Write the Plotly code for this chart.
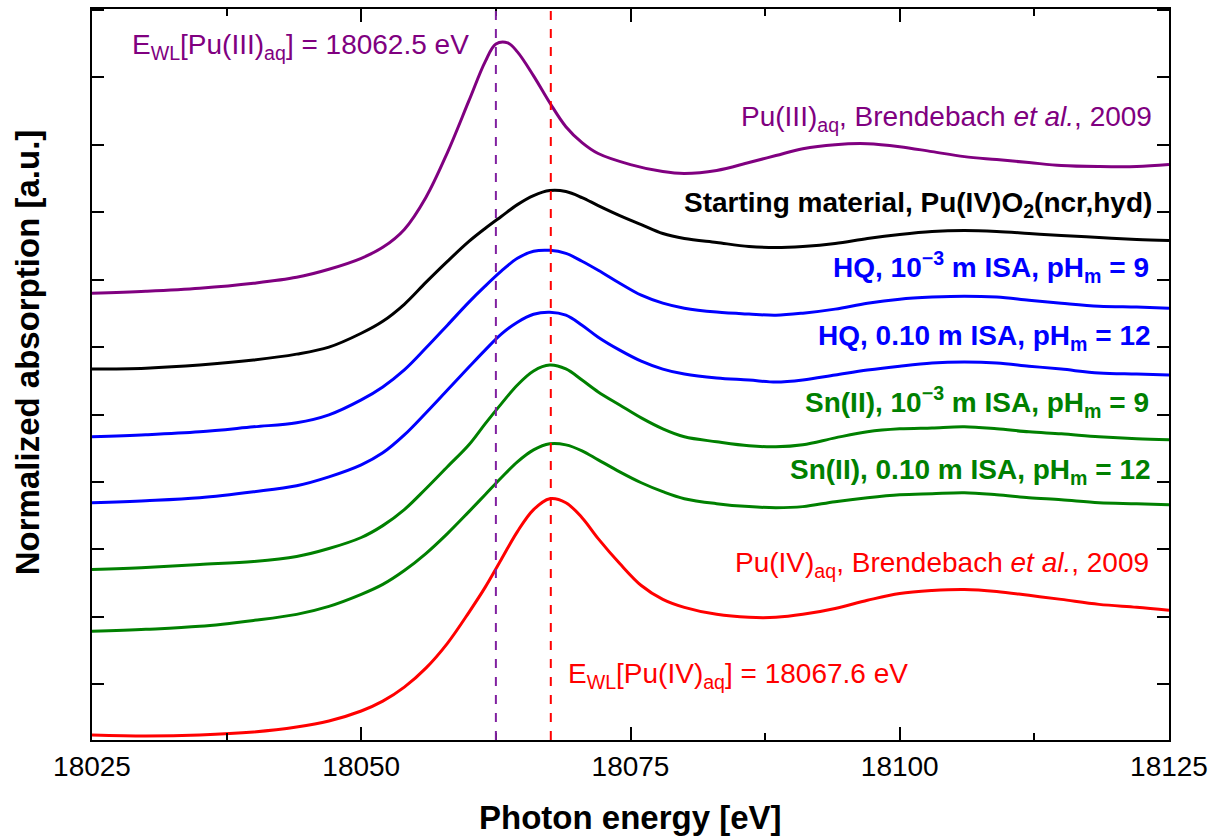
import plotly.graph_objects as go

# ---------------- data ----------------
energy = [18025, 18030, 18035, 18040, 18044, 18047, 18050, 18052, 18054, 18056,
          18058, 18060, 18061.5, 18063, 18064.5, 18066, 18067.5, 18069, 18070.5, 18072,
          18074, 18076, 18078, 18080, 18083, 18086, 18088.5, 18091, 18094, 18097,
          18100, 18103, 18106, 18109, 18112, 18115, 18118.5, 18122, 18125]

mu_pu4_aq = [0.000, -0.007, 0.000, 0.022, 0.059, 0.104, 0.178, 0.251, 0.355, 0.496,
             0.680, 0.910, 1.095, 1.302, 1.509, 1.672, 1.753, 1.723, 1.612, 1.457,
             1.272, 1.109, 1.006, 0.947, 0.895, 0.873, 0.873, 0.895, 0.939, 0.999,
             1.050, 1.072, 1.080, 1.065, 1.036, 1.006, 0.969, 0.947, 0.925]

mu_sn_012 = [0.000, 0.015, 0.037, 0.081, 0.126, 0.185, 0.274, 0.348, 0.451, 0.577,
             0.725, 0.888, 1.013, 1.139, 1.257, 1.346, 1.391, 1.383, 1.339, 1.272,
             1.183, 1.102, 1.036, 0.984, 0.947, 0.925, 0.917, 0.925, 0.962, 0.991,
             1.013, 1.021, 1.028, 1.013, 0.991, 0.976, 0.954, 0.947, 0.939]

mu_sn_9 = [0.000, 0.015, 0.037, 0.059, 0.096, 0.155, 0.237, 0.325, 0.444, 0.599,
           0.762, 0.925, 1.080, 1.228, 1.368, 1.472, 1.516, 1.487, 1.405, 1.317,
           1.220, 1.124, 1.043, 0.984, 0.947, 0.917, 0.910, 0.925, 0.976, 1.021,
           1.043, 1.050, 1.058, 1.043, 1.021, 1.006, 0.984, 0.969, 0.962]

mu_hq_012 = [0.000, 0.015, 0.037, 0.081, 0.126, 0.192, 0.281, 0.370, 0.503, 0.666,
             0.836, 1.006, 1.132, 1.250, 1.339, 1.398, 1.413, 1.391, 1.317, 1.228,
             1.132, 1.050, 0.991, 0.954, 0.925, 0.910, 0.895, 0.910, 0.947, 0.984,
             1.013, 1.036, 1.043, 1.036, 1.013, 0.991, 0.962, 0.954, 0.947]

mu_hq_9 = [0.000, 0.015, 0.037, 0.074, 0.104, 0.163, 0.274, 0.370, 0.496, 0.658,
           0.828, 0.999, 1.117, 1.228, 1.324, 1.376, 1.383, 1.361, 1.302, 1.235,
           1.139, 1.050, 0.991, 0.954, 0.925, 0.910, 0.902, 0.917, 0.947, 0.991,
           1.021, 1.036, 1.043, 1.036, 1.013, 0.991, 0.969, 0.962, 0.954]

mu_start = [0.000, 0.007, 0.030, 0.067, 0.111, 0.163, 0.266, 0.355, 0.481, 0.643,
            0.799, 0.947, 1.043, 1.132, 1.220, 1.287, 1.324, 1.317, 1.272, 1.213,
            1.139, 1.072, 1.006, 0.969, 0.939, 0.910, 0.902, 0.910, 0.932, 0.969,
            0.999, 1.021, 1.028, 1.021, 1.006, 0.991, 0.976, 0.962, 0.954]

energy_pu3 = [18025, 18030, 18035, 18040, 18044, 18047, 18050, 18052, 18054, 18056,
              18058, 18060, 18061.5, 18062.5, 18063.6, 18064.5, 18066, 18067.5, 18069, 18070.5,
              18072, 18075, 18078, 18080, 18083, 18086, 18088.5, 18091, 18094, 18097,
              18100, 18103, 18106, 18109, 18112, 18115, 18118.5, 18122, 18125]
mu_pu3_aq = [0.000, 0.015, 0.037, 0.074, 0.118, 0.178, 0.259, 0.340, 0.473, 0.710,
             1.043, 1.428, 1.716, 1.849, 1.857, 1.790, 1.612, 1.413, 1.235, 1.117,
             1.036, 0.954, 0.902, 0.888, 0.910, 0.969, 1.021, 1.072, 1.102, 1.109,
             1.087, 1.050, 1.013, 0.991, 0.969, 0.947, 0.939, 0.939, 0.954]

series_names = ["Pu(IV)aq", "Sn(II) 0.10 m", "Sn(II) 1e-3 m", "HQ 0.10 m", "HQ 1e-3 m",
                "Starting material", "Pu(III)aq"]
series_offsets = [0.0, 0.769, 1.228, 1.723, 2.212, 2.714, 3.277]
series_colors = ["#FF0000", "#008000", "#008000", "#0000FF", "#0000FF", "#000000", "#800080"]

e_wl_pu3 = 18062.5
e_wl_pu4 = 18067.6

# ---------------- figure ----------------
FONT = "Liberation Sans, Arial, Helvetica, sans-serif"
fig = go.Figure()

xs = [energy] * 6 + [energy_pu3]
ys = [mu_pu4_aq, mu_sn_012, mu_sn_9, mu_hq_012, mu_hq_9, mu_start, mu_pu3_aq]
for name, x, y, off, col in zip(series_names, xs, ys, series_offsets, series_colors):
    fig.add_trace(go.Scatter(
        x=x, y=[v + off for v in y], mode="lines", name=name,
        line=dict(color=col, width=3, shape="spline", smoothing=1.0),
        showlegend=False, hoverinfo="skip"))

# white-line markers
for xv, col in [(e_wl_pu3, "#8020A0"), (e_wl_pu4, "#FF0000")]:
    fig.add_shape(type="line", xref="x", yref="paper", x0=xv, x1=xv, y0=0, y1=1,
                  line=dict(color=col, width=2, dash="dash"), layer="above")

def ann(text, x, y, color, xanchor="right", size=28):
    fig.add_annotation(text=text, x=x, y=y, xref="x", yref="y", showarrow=False,
                       xanchor=xanchor, yanchor="middle",
                       font=dict(family=FONT, size=size, color=color))

ann("E<sub>WL</sub>[Pu(III)<sub>aq</sub>] = 18062.5 eV", 18060.2, 5.105, "#800080")
ann("Pu(III)<sub>aq</sub>, Brendebach <i>et al.</i>, 2009", 18123.6, 4.57, "#800080")
ann("<b>Starting material, Pu(IV)O<sub>2</sub>(ncr,hyd)</b>", 18123.6, 3.935, "#000000")
ann("<b>HQ, 10<sup>\u22123</sup> m ISA, pH<sub>m</sub> = 9</b>", 18123.3, 3.47, "#0000FF")
ann("<b>HQ, 0.10 m ISA, pH<sub>m</sub> = 12</b>", 18123.5, 2.945, "#0000FF")
ann("<b>Sn(II), 10<sup>\u22123</sup> m ISA, pH<sub>m</sub> = 9</b>", 18123.3, 2.47, "#008000")
ann("<b>Sn(II), 0.10 m ISA, pH<sub>m</sub> = 12</b>", 18123.5, 1.955, "#008000")
ann("Pu(IV)<sub>aq</sub>, Brendebach <i>et al.</i>, 2009", 18123.3, 1.265, "#FF0000")
ann("E<sub>WL</sub>[Pu(IV)<sub>aq</sub>] = 18067.6 eV", 18069.0, 0.445, "#FF0000", xanchor="left")

# axis titles
fig.add_annotation(text="<b>Photon energy [eV]</b>", xref="paper", yref="paper",
                   x=0.5, y=-0.106, showarrow=False, xanchor="center", yanchor="middle",
                   font=dict(family=FONT, size=33, color="black"))
fig.add_annotation(text="<b>Normalized absorption [a.u.]</b>", xref="paper", yref="paper",
                   x=-0.060, y=0.531, showarrow=False, xanchor="center", yanchor="middle",
                   textangle=-90, font=dict(family=FONT, size=33, color="black"))

fig.update_xaxes(range=[18025, 18125], tickmode="linear", tick0=18025, dtick=25,
                 tickformat="d",
                 ticks="inside", ticklen=13, tickwidth=2, tickcolor="black",
                 minor=dict(dtick=12.5, ticks="inside", ticklen=7, tickwidth=2,
                            tickcolor="black", showgrid=False),
                 showline=True, linewidth=2, linecolor="black", mirror="allticks",
                 showgrid=False, zeroline=False,
                 tickfont=dict(family=FONT, size=28, color="black"))
fig.update_yaxes(range=[-0.037, 5.385], tickmode="linear", tick0=0.377, dtick=0.5,
                 ticks="inside", ticklen=12, tickwidth=2, tickcolor="black",
                 showticklabels=False, showline=True, linewidth=2, linecolor="black",
                 mirror="allticks", showgrid=False, zeroline=False)

fig.update_layout(width=1221, height=839, margin=dict(l=92, r=52, t=7, b=99),
                  plot_bgcolor="white", paper_bgcolor="white", showlegend=False)

fig.write_html("out.html")
